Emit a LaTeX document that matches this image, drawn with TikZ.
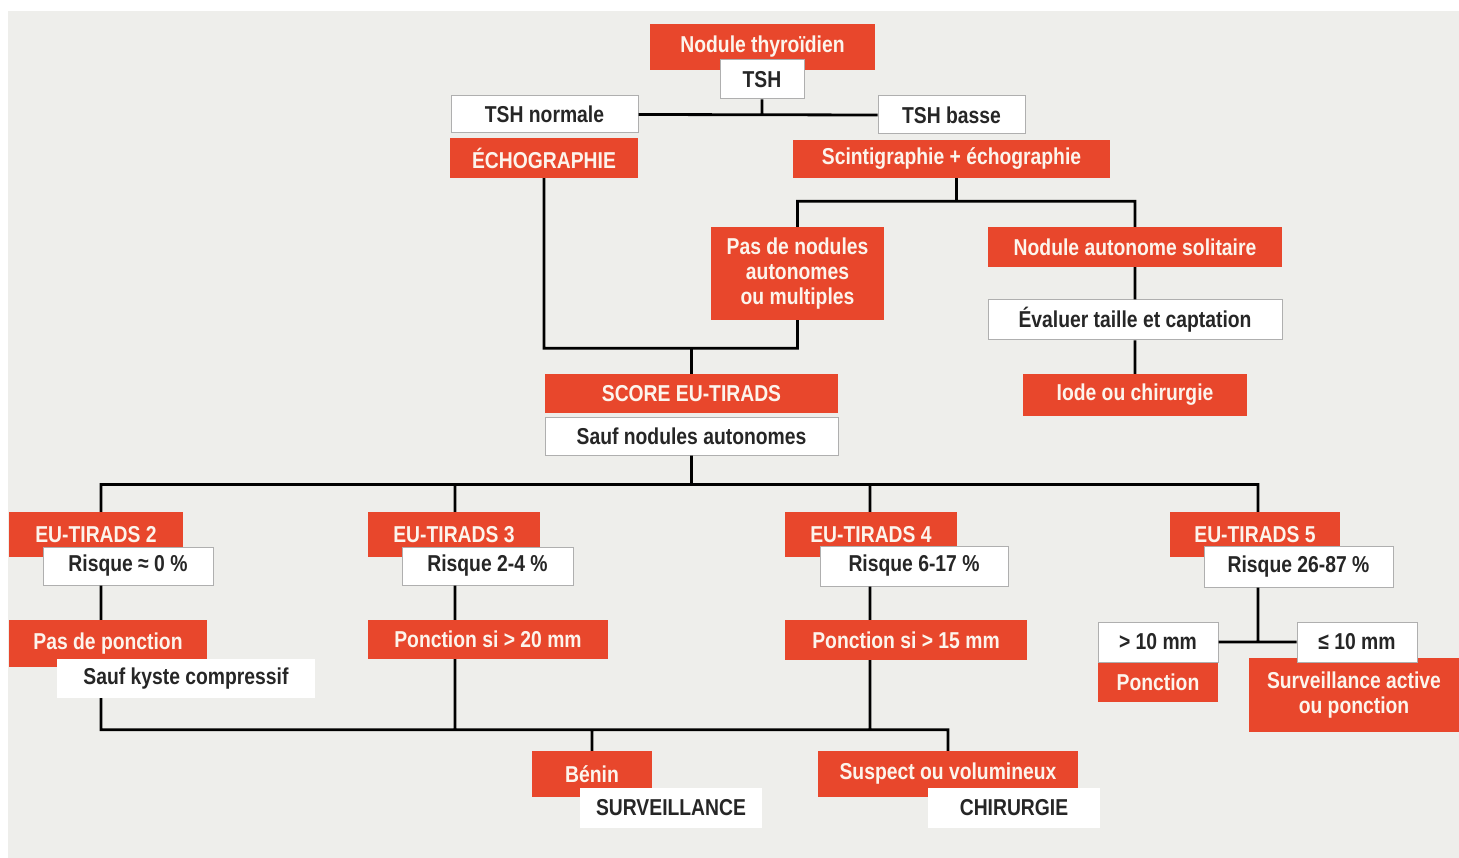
\documentclass[tikz,border=0pt]{standalone}
\usepackage{fontspec}
\newfontfamily\chartfont{Liberation Sans}[FakeStretch=0.84]
\definecolor{tired}{RGB}{232,71,44}
\definecolor{paper}{RGB}{238,238,235}
\definecolor{ink}{RGB}{38,38,38}
\definecolor{rim}{RGB}{175,175,175}
\definecolor{cream}{RGB}{252,244,236}
\begin{document}
\begin{tikzpicture}[x=1pt, y=-1pt,
  font=\chartfont\bfseries\fontsize{23}{25}\selectfont,
  tag/.style={fill=tired, text=cream, inner sep=0pt, align=center},
  note/.style={fill=white, draw=rim, line width=1pt, text=ink, inner sep=0pt},
  bare/.style={fill=white, text=ink, inner sep=0pt},
  link/.style={line width=2.8pt}]
\useasboundingbox (0,0) rectangle (1459,858);
\fill[paper] (8,11) rectangle (1459,858);

% red boxes
\foreach \n/\x/\y/\w/\h/\t in {
  nod/762.5/47/225/46/Nodule thyroïdien,
  echo/544/158/188/40/ÉCHOGRAPHIE,
  scin/951.5/159/317/38/Scintigraphie + échographie,
  pasnod/797.5/273.5/173/93/{Pas de nodules\\autonomes\\ou multiples},
  solit/1135/247/294/40/Nodule autonome solitaire,
  iode/1135/395/224/42/Iode ou chirurgie,
  score/691.5/393.5/293/39/SCORE EU-TIRADS,
  t2/96/534.5/174/45/EU-TIRADS 2,
  t3/454/534.5/172/45/EU-TIRADS 3,
  t4/871/534.5/172/45/EU-TIRADS 4,
  t5/1255/534.5/170/45/EU-TIRADS 5,
  pp/108/643.5/198/47/Pas de ponction,
  p20/488/639.5/240/39/Ponction si > 20 mm,
  p15/906/640/242/40/Ponction si > 15 mm,
  ponc/1158/682.5/120/39/Ponction,
  sact/1354/695/210/74/{Surveillance active\\ou ponction},
  ben/592/774/120/46/Bénin,
  susp/948/774/260/46/Suspect ou volumineux}
  \node[tag, minimum width=\w pt, minimum height=\h pt] (\n) at (\x,\y) {\t};

% white boxes
\foreach \n/\x/\y/\w/\h/\t in {
  tsh/762/79.5/84/39/TSH,
  tshn/544.5/114.5/187/37/TSH normale,
  tshb/951.5/115/147/38/TSH basse,
  eval/1135/320/294/40/Évaluer taille et captation,
  sauf/691.5/436/293/38/Sauf nodules autonomes,
  r2/128/566/170/38/Risque ≈ 0 \%,
  r3/487.5/566/171/38/Risque 2-4 \%,
  r4/914/566/188/40/Risque 6-17 \%,
  r5/1298.5/566.5/189/41/Risque 26-87 \%,
  gt/1158/642/120/40/> 10 mm,
  le/1357/642/120/40/≤ 10 mm}
  \node[note, minimum width=\w pt, minimum height=\h pt] (\n) at (\x,\y) {\t};
\foreach \n/\x/\y/\w/\h/\t in {
  kyste/186/678.5/258/39/Sauf kyste compressif,
  surv/671/808/182/40/SURVEILLANCE,
  chir/1014/808/172/40/CHIRURGIE}
  \node[bare, minimum width=\w pt, minimum height=\h pt] (\n) at (\x,\y) {\t};

\path ([xshift=5pt]scin.south) coordinate (sd) ++(0,23) coordinate (sj)
  (echo.south) ++(0,170) coordinate (ej)
  (sauf.south) ++(0,29) coordinate (bus)
  (ben.north) ++(0,-21) coordinate (low)
  ([xshift=5pt]t2.north) coordinate (c2)
  ([xshift=1pt]t3.north) coordinate (c3)
  ([xshift=-1pt]t4.north) coordinate (c4)
  ([xshift=3pt]t5.north) coordinate (c5);

\draw[link] (tsh.south) -- (tsh.south |- tshn.east)
  (tshn.east) -- (tshb.west)
  (sd) -- (sj)
  (pasnod.north) |- (sj) -| (solit.north)
  (solit) -- (eval) (eval) -- (iode)
  (echo.south) |- (pasnod.south |- ej) -- (pasnod.south)
  (score.north) -- (score.north |- ej)
  (sauf.south) -- (bus)
  (c2) |- (bus) -| (c5)
  (c3) -- (c3 |- bus) (c4) -- (c4 |- bus)
  (c2 |- r2.south) -- (c2 |- pp.north)
  (c3 |- r3.south) -- (c3 |- p20.north)
  (c4 |- r4.south) -- (c4 |- p15.north)
  (c5 |- r5.south) -- (c5 |- gt.east)
  (gt.east) -- (le.west)
  (c2 |- kyste.south) |- (susp.north |- low) -- (susp.north)
  (c3 |- p20.south) -- (c3 |- low)
  (c4 |- p15.south) -- (c4 |- low)
  (ben.north) -- (low);
\end{tikzpicture}
\end{document}
